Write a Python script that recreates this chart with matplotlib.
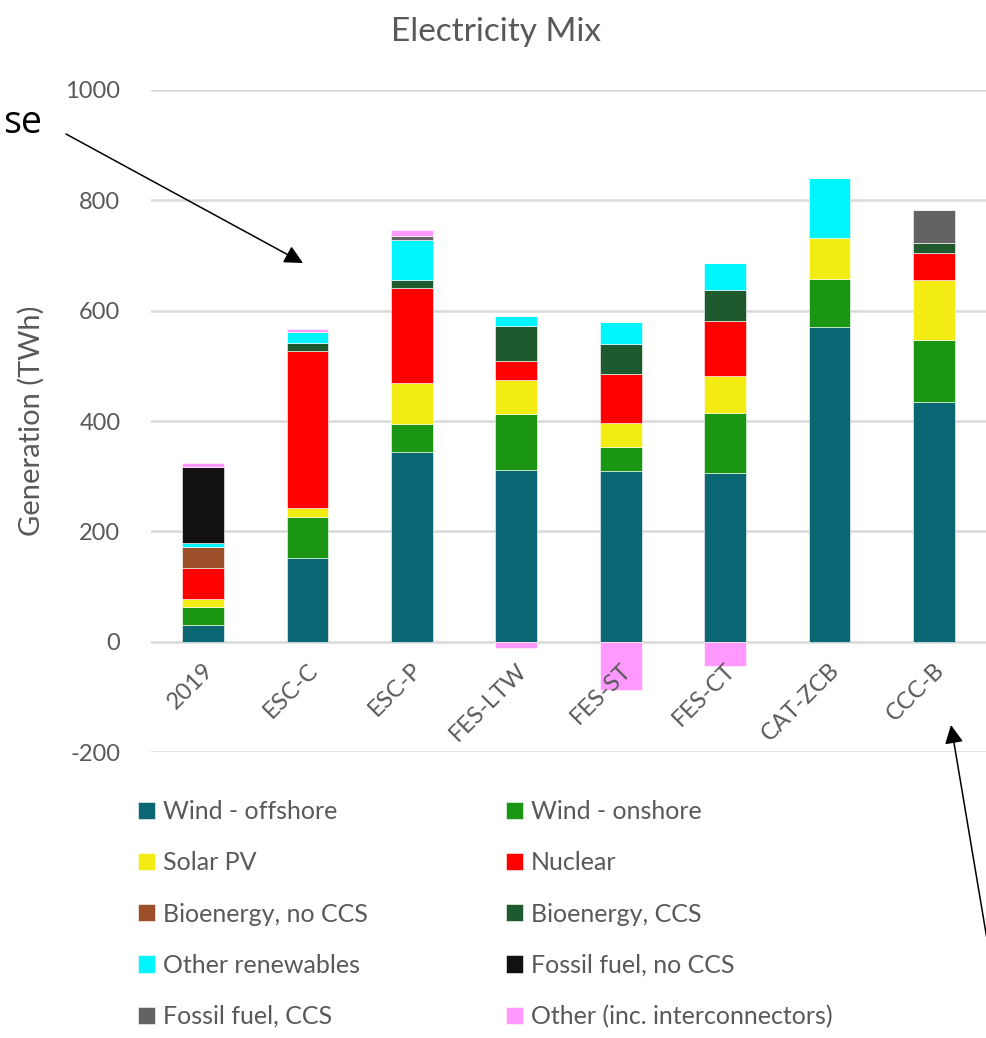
import numpy as np
import matplotlib
matplotlib.use('Agg')
import matplotlib.pyplot as plt
from matplotlib.patches import Patch
from matplotlib.transforms import ScaledTranslation

plt.rcParams['font.family'] = ['Lato', 'DejaVu Sans']
plt.rcParams['axes.unicode_minus'] = False

# Electricity generation by source (TWh)
scenarios = ['2019', 'ESC-C', 'ESC-P', 'FES-LTW', 'FES-ST', 'FES-CT', 'CAT-ZCB', 'CCC-B']
wind_offshore = [31, 151, 343, 312, 309, 306, 571, 434]
wind_onshore = [32, 75, 51, 100, 44, 109, 86, 112]
solar_pv = [14, 17, 74, 63, 44, 66, 75, 109]
nuclear = [56, 283, 173, 34, 89, 101, 0, 49]
bio_no_ccs = [38, 0, 0, 0, 0, 0, 0, 0]
bio_ccs = [0, 16, 14, 63, 53, 56, 0, 18]
other_renewables = [7, 19, 74, 19, 40, 48, 109, 0]
fossil_no_ccs = [139, 0, 0, 0, 0, 0, 0, 0]
fossil_ccs = [0, 0, 7, 0, 0, 0, 0, 60]
other = [7, 5, 10, -12, -88, -44, 0, 0]

series = [
    ('Wind - offshore', wind_offshore, '#0a6673'),
    ('Wind - onshore', wind_onshore, '#1a9612'),
    ('Solar PV', solar_pv, '#f2ec12'),
    ('Nuclear', nuclear, '#ff0000'),
    ('Bioenergy, no CCS', bio_no_ccs, '#9c4f28'),
    ('Bioenergy, CCS', bio_ccs, '#1e5a2e'),
    ('Other renewables', other_renewables, '#00f6ff'),
    ('Fossil fuel, no CCS', fossil_no_ccs, '#111111'),
    ('Fossil fuel, CCS', fossil_ccs, '#636363'),
    ('Other (inc. interconnectors)', other, '#ff99ff'),
]

grey_text = '#595959'
W, H = 987, 1038
fig = plt.figure(figsize=(W / 100, H / 100), dpi=100)
ax = fig.add_axes([151 / W, 1 - 752 / H, 835 / W, 662 / H])

x = np.arange(len(scenarios))
pos_bottom = np.zeros(len(scenarios))
neg_bottom = np.zeros(len(scenarios))
for name, vals, color in series:
    v = np.array(vals, dtype=float)
    bottom = np.where(v >= 0, pos_bottom, neg_bottom)
    ax.bar(x, v, width=0.4, bottom=bottom, color=color,
           edgecolor='#ffffff', linewidth=0.4, zorder=1)
    pos_bottom += np.where(v > 0, v, 0)
    neg_bottom += np.where(v < 0, v, 0)

ax.set_xlim(-0.5, len(scenarios) - 0.5)
ax.set_ylim(-200, 1000)
yticks = list(range(-200, 1001, 200))
ax.set_yticks(yticks)
# gridlines drawn behind the bars, tick labels stay on top
for yv in yticks:
    ax.axhline(yv, color='#d9d9d9', linewidth=1.8, zorder=0)

for side in ['top', 'right', 'left']:
    ax.spines[side].set_visible(False)
ax.spines['bottom'].set_position(('data', 0))
ax.spines['bottom'].set_color('none')

ax.tick_params(axis='both', length=0, colors=grey_text, labelsize=17)
ax.tick_params(axis='y', pad=22)
ax.tick_params(axis='x', pad=18)
ax.set_xticks(x)
ax.set_xticklabels(scenarios, rotation=45, ha='right', va='center',
                   rotation_mode='anchor')
shift = ScaledTranslation(7 / 100, 0, fig.dpi_scale_trans)
for lbl in ax.get_xticklabels():
    lbl.set_transform(lbl.get_transform() + shift)

ax.set_ylabel('Generation (TWh)', fontsize=21, color=grey_text)
ax.yaxis.set_label_coords(-0.127, 0.5)

fig.text(496 / W, 1 - 32 / H, 'Electricity Mix', ha='center', va='center',
         fontsize=24, color=grey_text)

# legend in two columns, read across rows
handles = [Patch(facecolor=c, edgecolor='#ffffff', linewidth=0.4, label=n)
           for n, _, c in series]
leg_kw = dict(loc='upper left', frameon=False, borderpad=0, borderaxespad=0,
              fontsize=18, handlelength=0.68, handleheight=0.68,
              handletextpad=0.32, labelspacing=1.13, labelcolor=grey_text)
fig.legend(handles=handles[0::2], bbox_to_anchor=(138 / W, 1 - 800 / H), **leg_kw)
fig.legend(handles=handles[1::2], bbox_to_anchor=(506 / W, 1 - 800 / H), **leg_kw)

# slide annotations
fig.text(3 / W, 1 - 133 / H, 'se', ha='left', va='baseline', fontsize=27,
         family='Open Sans', color='black')
arrow = dict(arrowstyle='-|>,head_length=0.4,head_width=0.2', color='black',
             lw=1.1, mutation_scale=28, shrinkA=0, shrinkB=0)
fig.add_artist(plt.Annotation('', xy=(303 / W, 1 - 263 / H), xytext=(66 / W, 1 - 134 / H),
                              xycoords='figure fraction', textcoords='figure fraction',
                              arrowprops=arrow))
fig.add_artist(plt.Annotation('', xy=(951 / W, 1 - 725 / H), xytext=(993 / W, 1 - 975 / H),
                              xycoords='figure fraction', textcoords='figure fraction',
                              arrowprops=arrow))

fig.savefig('out.png', dpi=100)
